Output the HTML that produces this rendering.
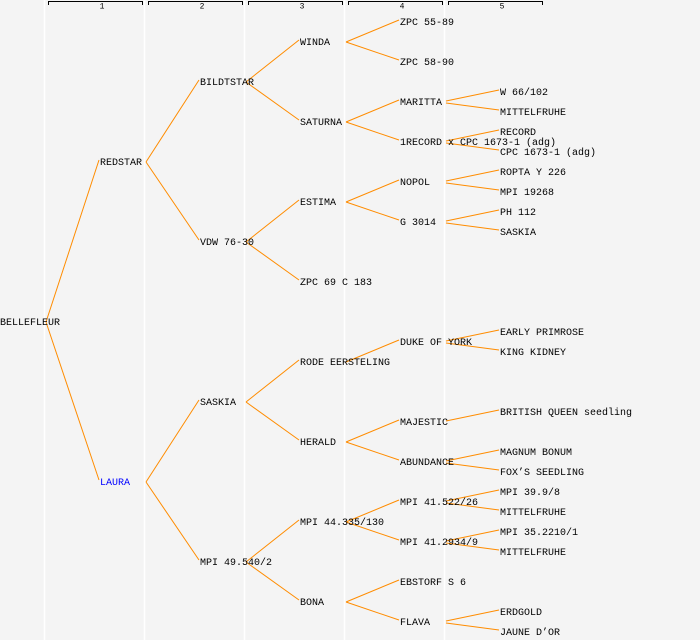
<!DOCTYPE html>
<html><head><meta charset="utf-8"><style>
html,body{margin:0;padding:0;background:#f4f4f4}
svg{display:block}
text{font-family:"Liberation Mono","DejaVu Sans Mono",monospace;font-size:10px;fill:#000;dominant-baseline:central}
.h{font-size:8px;text-anchor:middle}
</style></head><body>
<svg width="700" height="640" viewBox="0 0 700 640" xmlns="http://www.w3.org/2000/svg">
<rect width="700" height="640" fill="#f4f4f4"/>
<g stroke="#fff" stroke-width="1.5">
<line x1="44.5" y1="0" x2="44.5" y2="640"/><line x1="144.5" y1="0" x2="144.5" y2="640"/><line x1="244.5" y1="0" x2="244.5" y2="640"/><line x1="344.5" y1="0" x2="344.5" y2="640"/><line x1="444.5" y1="0" x2="444.5" y2="640"/>
</g>
<g stroke="#000" stroke-width="1" fill="none">
<path d="M48.5 5V1.5H142.5V5"/><path d="M148.5 5V1.5H242.5V5"/><path d="M248.5 5V1.5H342.5V5"/><path d="M348.5 5V1.5H442.5V5"/><path d="M448.5 5V1.5H542.5V5"/>
</g>
<text class="h" x="102" y="7">1</text><text class="h" x="202" y="7">2</text><text class="h" x="302" y="7">3</text><text class="h" x="402" y="7">4</text><text class="h" x="502" y="7">5</text>
<g stroke="#ff8c00" stroke-width="1" fill="none">
<path d="M46 322L99 160M46 322L99 480"/>
<path d="M146 162L199 80M146 162L199 240M146 482L199 400M146 482L199 560"/>
<path d="M246 82L299 40M246 82L299 120M246 242L299 200M246 242L299 280M246 402L299 360M246 402L299 440M246 562L299 520M246 562L299 600"/>
<path d="M346 42L399 20M346 42L399 60M346 122L399 100M346 122L399 140M346 202L399 180M346 202L399 220M346 362L399 340M346 442L399 420M346 442L399 460M346 522L399 500M346 522L399 540M346 602L399 580M346 602L399 620"/>
<path d="M446 101L499 90M446 103L499 110M446 141L499 130M446 143L499 150M446 181L499 170M446 183L499 190M446 221L499 210M446 223L499 230M446 341L499 330M446 343L499 350M446 421L499 410M446 461L499 450M446 463L499 470M446 501L499 490M446 503L499 510M446 541L499 530M446 543L499 550M446 621L499 610M446 623L499 630"/>
</g>
<g transform="translate(0,1.5)">
<text x="0" y="322">BELLEFLEUR</text>
<text x="100" y="162">REDSTAR</text>
<text x="100" y="482" style="fill:#0000ff">LAURA</text>
<text x="200" y="82">BILDTSTAR</text><text x="200" y="242">VDW 76-30</text><text x="200" y="402">SASKIA</text><text x="200" y="562">MPI 49.540/2</text>
<text x="300" y="42">WINDA</text><text x="300" y="122">SATURNA</text><text x="300" y="202">ESTIMA</text><text x="300" y="282">ZPC 69 C 183</text><text x="300" y="362">RODE EERSTELING</text><text x="300" y="442">HERALD</text><text x="300" y="522">MPI 44.335/130</text><text x="300" y="602">BONA</text>
<text x="400" y="22">ZPC 55-89</text><text x="400" y="62">ZPC 58-90</text><text x="400" y="102">MARITTA</text><text x="400" y="142">1RECORD x CPC 1673-1 (adg)</text><text x="400" y="182">NOPOL</text><text x="400" y="222">G 3014</text><text x="400" y="342">DUKE OF YORK</text><text x="400" y="422">MAJESTIC</text><text x="400" y="462">ABUNDANCE</text><text x="400" y="502">MPI 41.522/26</text><text x="400" y="542">MPI 41.2934/9</text><text x="400" y="582">EBSTORF S 6</text><text x="400" y="622">FLAVA</text>
<text x="500" y="92">W 66/102</text><text x="500" y="112">MITTELFRUHE</text><text x="500" y="132">RECORD</text><text x="500" y="152">CPC 1673-1 (adg)</text><text x="500" y="172">ROPTA Y 226</text><text x="500" y="192">MPI 19268</text><text x="500" y="212">PH 112</text><text x="500" y="232">SASKIA</text><text x="500" y="332">EARLY PRIMROSE</text><text x="500" y="352">KING KIDNEY</text><text x="500" y="412">BRITISH QUEEN seedling</text><text x="500" y="452">MAGNUM BONUM</text><text x="500" y="472">FOX’S SEEDLING</text><text x="500" y="492">MPI 39.9/8</text><text x="500" y="512">MITTELFRUHE</text><text x="500" y="532">MPI 35.2210/1</text><text x="500" y="552">MITTELFRUHE</text><text x="500" y="612">ERDGOLD</text><text x="500" y="632">JAUNE D’OR</text>
</g>
</svg>
</body></html>
